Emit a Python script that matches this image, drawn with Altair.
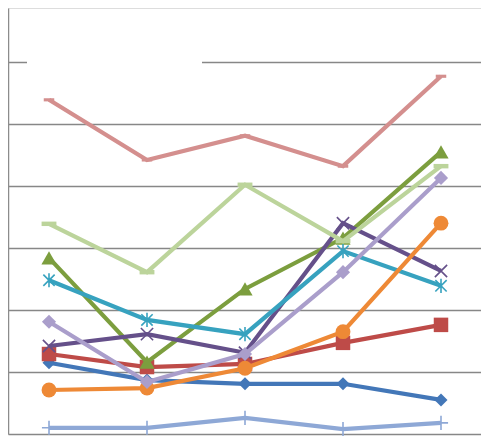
import altair as alt
import pandas as pd

# category positions (5 categories, no labels shown)
categories = [0, 1, 2, 3, 4]

# series values (gridline units)
s_blue = [1.15, 0.87, 0.81, 0.81, 0.55]
s_red = [1.29, 1.08, 1.13, 1.47, 1.76]
s_olive = [2.84, 1.16, 2.34, 3.16, 4.55]
s_purple = [1.42, 1.61, 1.31, 3.40, 2.63]
s_teal = [2.48, 1.84, 1.61, 2.95, 2.39]
s_orange = [0.71, 0.74, 1.06, 1.65, 3.40]
s_lightblue = [0.10, 0.10, 0.26, 0.08, 0.18]
s_pink = [5.39, 4.42, 4.81, 4.32, 5.77]
s_lightgreen = [3.39, 2.61, 4.02, 3.11, 4.32]
s_lightpurple = [1.81, 0.84, 1.29, 2.61, 4.13]

DASH = "M-1,-0.3L1,-0.3L1,0.3L-1,0.3Z"
XMARK = "M-1,-1L1,1M-1,1L1,-1"
STAR = "M0,-1L0,1M-0.8,-0.8L0.8,0.8M-0.8,0.8L0.8,-0.8"
PLUS = "M-1,0L1,0M0,-1L0,1"

series = [
    ("blue", s_blue, "#4377B8", "diamond", True, 170),
    ("red", s_red, "#BE4B48", "square", True, 210),
    ("olive", s_olive, "#7C9E3E", "triangle-up", True, 230),
    ("purple", s_purple, "#65508A", XMARK, False, 150),
    ("teal", s_teal, "#37A2BF", STAR, False, 200),
    ("orange", s_orange, "#EE8936", "circle", True, 220),
    ("lightblue", s_lightblue, "#8EA8D6", PLUS, False, 200),
    ("pink", s_pink, "#D48F8E", DASH, True, 110),
    ("lightgreen", s_lightgreen, "#BCD49B", DASH, True, 220),
    ("lightpurple", s_lightpurple, "#AA9ECB", "diamond", True, 200),
]

W, H = 473, 426
x_enc = alt.X("idx:Q", scale=alt.Scale(domain=[-41 / 98, (W - 41) / 98], nice=False, zero=False), axis=None)
y_enc = alt.Y(
    "value:Q",
    scale=alt.Scale(domain=[0, H / 62], nice=False),
    axis=alt.Axis(values=[0, 1, 2, 3, 4, 5, 6], labels=False, ticks=False, domain=True,
                  domainColor="#8C8C8C", domainWidth=1.5, grid=True, gridColor="#878787",
                  gridWidth=1.3, title=None),
)

layers = []
for name, vals, color, shape, filled, size in series:
    df = pd.DataFrame({"idx": categories, "value": vals, "series": name})
    base = alt.Chart(df)
    layers.append(base.mark_line(color=color, strokeWidth=4.2).encode(x=x_enc, y=y_enc))
    if filled:
        pt = base.mark_point(shape=shape, filled=True, color=color, size=size, opacity=1)
    else:
        pt = base.mark_point(shape=shape, filled=False, color=color, size=size, strokeWidth=1.6, opacity=1)
    layers.append(pt.encode(x=x_enc, y=y_enc))
    if name == "blue":
        gap = alt.Chart(pd.DataFrame({"a": [0]})).mark_rect(color="white").encode(
            x=alt.value(19), x2=alt.value(194), y=alt.value(51), y2=alt.value(57))
        layers.insert(0, gap)

chart = alt.layer(*layers).properties(width=W, height=H, padding=0).configure_view(stroke=None).configure(background="white")

chart.save("out.html", embed_options={"renderer": "svg", "actions": False})
